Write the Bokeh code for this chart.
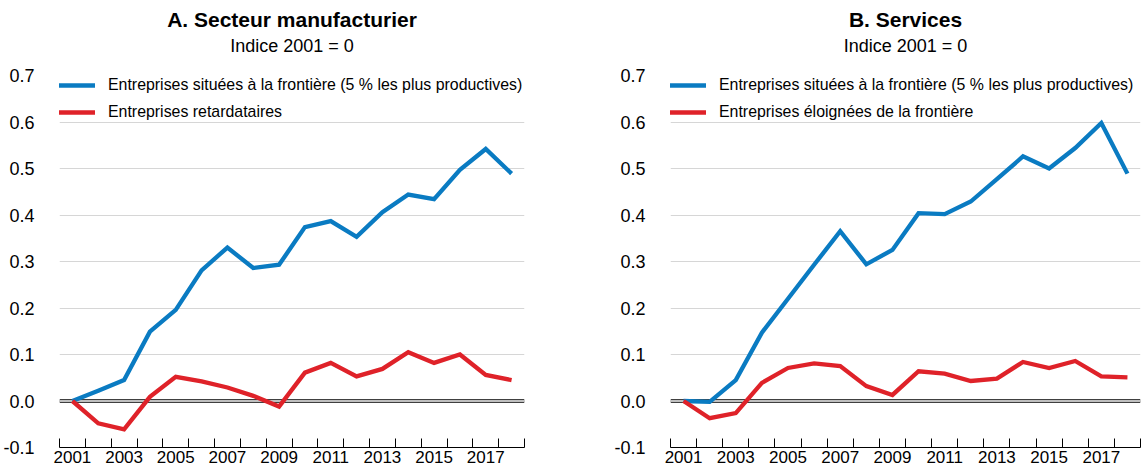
from bokeh.plotting import figure
from bokeh.layouts import row
from bokeh.models import (FixedTicker, NumeralTickFormatter, Span, Legend, LegendItem,
                          Title, ColumnDataSource, Range1d)
from bokeh.embed import file_html
from bokeh.resources import INLINE

years = list(range(2001, 2019))
year_labels = [2001, 2003, 2005, 2007, 2009, 2011, 2013, 2015, 2017]

manuf_frontier = [0.0, 0.022, 0.045, 0.149, 0.196, 0.281, 0.330, 0.286, 0.293, 0.374,
                  0.387, 0.353, 0.406, 0.444, 0.434, 0.497, 0.542, 0.489]
manuf_laggard = [0.0, -0.048, -0.061, 0.009, 0.052, 0.042, 0.029, 0.011, -0.012, 0.061,
                 0.082, 0.053, 0.069, 0.105, 0.082, 0.100, 0.056, 0.045]
serv_frontier = [0.0, -0.002, 0.045, 0.147, 0.220, 0.293, 0.365, 0.294, 0.325, 0.404,
                 0.402, 0.429, 0.477, 0.526, 0.500, 0.544, 0.598, 0.489]
serv_laggard = [0.0, -0.037, -0.026, 0.039, 0.071, 0.081, 0.075, 0.032, 0.013, 0.064,
                0.059, 0.043, 0.048, 0.084, 0.071, 0.086, 0.053, 0.051]

titles = ["A. Secteur manufacturier", "B. Services"]
subtitle = "Indice 2001 = 0"
frontier_label = "Entreprises situées à la frontière (5 % les plus productives)"
laggard_labels = ["Entreprises retardataires", "Entreprises éloignées de la frontière"]

BLUE = "#0A7BC2"
RED = "#DF2229"
FONT = "Liberation Sans"


def make_panel(title, frontier, laggard, lag_label, left_border, right_border, width):
    p = figure(width=width, height=468, output_backend="svg", toolbar_location=None,
               title=None, x_range=Range1d(2000.5, 2018.5), y_range=Range1d(-0.1, 0.7),
               min_border_left=left_border, min_border_right=right_border,
               min_border_top=75, min_border_bottom=21)
    p.outline_line_color = None
    p.background_fill_color = "white"
    p.border_fill_color = "white"

    # titles (first added sits closest to the plot); a blank spacer keeps them at the top
    p.add_layout(Title(text=" ", align="center", text_font=FONT, text_font_size="1px",
                       text_color="white", standoff=15), "above")
    p.add_layout(Title(text=subtitle, align="center", vertical_align="top", text_font=FONT,
                       text_font_size="18px", text_font_style="normal", text_color="black",
                       standoff=0), "above")
    p.add_layout(Title(text=title, align="center", vertical_align="bottom", text_font=FONT,
                       text_font_size="21px", text_font_style="bold", text_color="black",
                       standoff=9), "above")

    # grid
    p.xgrid.grid_line_color = None
    p.ygrid.ticker = FixedTicker(ticks=[-0.1, 0, 0.1, 0.2, 0.3, 0.4, 0.5, 0.6, 0.7])
    p.ygrid.grid_line_color = "#d6d6d6"
    p.ygrid.grid_line_width = 1.2

    # y axis
    p.yaxis.ticker = FixedTicker(ticks=[-0.1, 0, 0.1, 0.2, 0.3, 0.4, 0.5, 0.6, 0.7])
    p.yaxis.formatter = NumeralTickFormatter(format="0.0")
    p.yaxis.axis_line_color = None
    p.yaxis.major_tick_line_color = None
    p.yaxis.minor_tick_line_color = None
    p.yaxis.major_label_standoff = 19
    p.yaxis.major_label_text_font = FONT
    p.yaxis.major_label_text_font_size = "18px"
    p.yaxis.major_label_text_color = "black"

    # x axis
    p.xaxis.ticker = FixedTicker(ticks=year_labels, minor_ticks=[y - 0.5 for y in years] + [2018.5])
    p.xaxis.axis_line_color = "black"
    p.xaxis.axis_line_width = 1
    p.xaxis.major_tick_in = 0
    p.xaxis.major_tick_out = 0
    p.xaxis.minor_tick_in = 9
    p.xaxis.minor_tick_out = 0
    p.xaxis.minor_tick_line_color = "black"
    p.xaxis.major_label_standoff = 3
    p.xaxis.major_label_text_font = FONT
    p.xaxis.major_label_text_font_size = "17px"
    p.xaxis.major_label_text_color = "black"

    # zero line (double)
    p.add_layout(Span(location=0, dimension="width", line_color="black", line_width=3.6, level="underlay"))
    p.add_layout(Span(location=0, dimension="width", line_color="white", line_width=1.3, level="underlay"))

    src = ColumnDataSource(dict(x=years, f=frontier, l=laggard))
    r1 = p.line("x", "f", source=src, line_color=BLUE, line_width=4.3, line_join="miter")
    r2 = p.line("x", "l", source=src, line_color=RED, line_width=4.3, line_join="miter")

    legend = Legend(items=[LegendItem(label=frontier_label, renderers=[r1]),
                           LegendItem(label=lag_label, renderers=[r2])],
                    location=(-7, 325), orientation="vertical",
                    padding=0, margin=0, spacing=7, glyph_width=43, glyph_height=20,
                    label_height=20, label_standoff=13,
                    label_text_font=FONT, label_text_font_size="15.9px", label_text_color="black",
                    background_fill_alpha=0, border_line_color=None)
    p.add_layout(legend, "center")
    return p


p1 = make_panel(titles[0], manuf_frontier, manuf_laggard, laggard_labels[0], 54, 46, 570)
p2 = make_panel(titles[1], serv_frontier, serv_laggard, laggard_labels[1], 100, 1, 571)

p = row(p1, p2, spacing=0)
open("out.html", "w").write(file_html(p, INLINE))
